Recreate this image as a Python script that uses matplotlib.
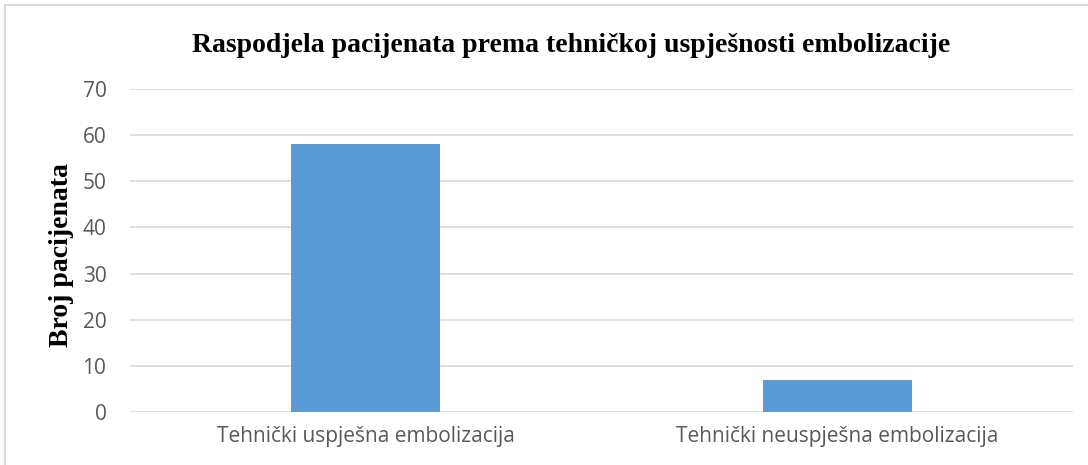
import matplotlib
matplotlib.use('Agg')
from matplotlib import pyplot as plt
from matplotlib.patches import Rectangle

categories = ['Tehnički uspješna embolizacija', 'Tehnički neuspješna embolizacija']
values = [58, 7]
yticks = [0, 10, 20, 30, 40, 50, 60, 70]

W, H = 1088, 465
fig = plt.figure(figsize=(W / 100, H / 100), dpi=100)
ax = fig.add_axes([130 / W, 1 - 412 / H, (1073 - 130) / W, (412 - 89) / H])

bar_color = '#5b9bd5'
grid_color = '#d9d9d9'
text_color = '#595959'

x = list(range(len(categories)))
ax.bar(x, values, width=0.316, color=bar_color, zorder=3)
ax.set_xlim(-0.5, len(categories) - 0.5)
ax.set_ylim(0, 70)
ax.set_yticks(yticks)
ax.set_xticks(x)
ax.set_xticklabels(categories)

for t in yticks:
    ax.axhline(t, color=grid_color, lw=1.2, zorder=1)

for s in ax.spines.values():
    s.set_visible(False)
ax.tick_params(length=0, colors=text_color, labelsize=15)
ax.tick_params(axis='y', pad=17)
ax.tick_params(axis='x', pad=10)
for lab in ax.get_xticklabels() + ax.get_yticklabels():
    lab.set_family('Open Sans')

fig.text(571 / W, 1 - 46 / H, 'Raspodjela pacijenata prema tehničkoj uspješnosti embolizacije',
         ha='center', va='center', fontsize=20, fontweight='bold', family='Liberation Serif')
fig.text(61 / W, 1 - 255 / H, 'Broj pacijenata', rotation=90, ha='center', va='center',
         fontsize=20, fontweight='bold', family='Liberation Serif')

# outer chart frame
fig.patches.append(Rectangle((5 / W, -0.1), 1.1, 1 - 5 / H + 0.1, transform=fig.transFigure,
                             fill=False, edgecolor=grid_color, lw=1.5))

fig.savefig('out.png', dpi=100)
